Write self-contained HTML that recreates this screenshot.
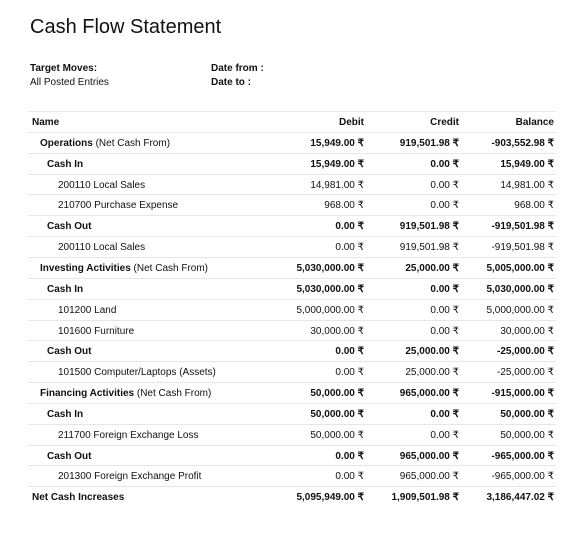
<!DOCTYPE html>
<html><head><meta charset="utf-8"><style>
body{margin:0;background:#fff;font-family:"Liberation Sans",sans-serif;color:#111;width:586px;height:533px;position:relative;overflow:hidden}
.t{position:absolute;white-space:nowrap}
h1{position:absolute;left:30px;top:16px;margin:0;font-size:20px;font-weight:normal}
.row{position:absolute;left:28px;width:528px;height:20px;border-top:1px solid #e6e6e6;font-size:10px}
.row span{position:absolute;top:5px;white-space:nowrap}
.b{font-weight:bold}
.c1{right:192px}.c2{right:97px}.c3{right:2px}
</style></head><body>
<h1>Cash Flow Statement</h1>
<div class="t b" style="left:30px;top:63px;font-size:10px">Target Moves:</div>
<div class="t" style="left:30px;top:77px;font-size:10px">All Posted Entries</div>
<div class="t b" style="left:211px;top:63px;font-size:10px">Date from :</div>
<div class="t b" style="left:211px;top:77px;font-size:10px">Date to :</div>
<div id="tbl"></div>
<script>
const names=["Operations|(Net Cash From)","Cash In","200110 Local Sales","210700 Purchase Expense","Cash Out","200110 Local Sales","Investing Activities|(Net Cash From)","Cash In","101200 Land","101600 Furniture","Cash Out","101500 Computer/Laptops (Assets)","Financing Activities|(Net Cash From)","Cash In","211700 Foreign Exchange Loss","Cash Out","201300 Foreign Exchange Profit","Net Cash Increases"];
const levels=[1,2,3,3,2,3,1,2,3,3,2,3,1,2,3,2,3,0];
const debit=["15,949.00","15,949.00","14,981.00","968.00","0.00","0.00","5,030,000.00","5,030,000.00","5,000,000.00","30,000.00","0.00","0.00","50,000.00","50,000.00","50,000.00","0.00","0.00","5,095,949.00"];
const credit=["919,501.98","0.00","0.00","0.00","919,501.98","919,501.98","25,000.00","0.00","0.00","0.00","25,000.00","25,000.00","965,000.00","0.00","0.00","965,000.00","965,000.00","1,909,501.98"];
const balance=["-903,552.98","15,949.00","14,981.00","968.00","-919,501.98","-919,501.98","5,005,000.00","5,030,000.00","5,000,000.00","30,000.00","-25,000.00","-25,000.00","-915,000.00","50,000.00","50,000.00","-965,000.00","-965,000.00","3,186,447.02"];
const tbl=document.getElementById('tbl');
const indent=[4,12,19,30];
const top0=111,rh=20.85;
function addRow(i,html){const r=document.createElement('div');r.className='row';r.style.top=(top0+rh*i)+'px';r.innerHTML=html;tbl.appendChild(r);return r;}
const h=addRow(0,'<span class="b" style="left:4px">Name</span><span class="b c1">Debit</span><span class="b c2">Credit</span><span class="b c3">Balance</span>');


names.forEach((n,i)=>{
 const bold=levels[i]!==3;const cls=bold?'b':'';
 const p=n.split('|');
 const nm=p.length>1?`<b>${p[0]}</b> ${p[1]}`:(bold?`<b>${p[0]}</b>`:p[0]);
 const r=addRow(i+1,`<span style="left:${indent[levels[i]]}px">${nm}</span><span class="${cls} c1">${debit[i]} ₹</span><span class="${cls} c2">${credit[i]} ₹</span><span class="${cls} c3">${balance[i]} ₹</span>`);
 
 
});
</script>
</body></html>
